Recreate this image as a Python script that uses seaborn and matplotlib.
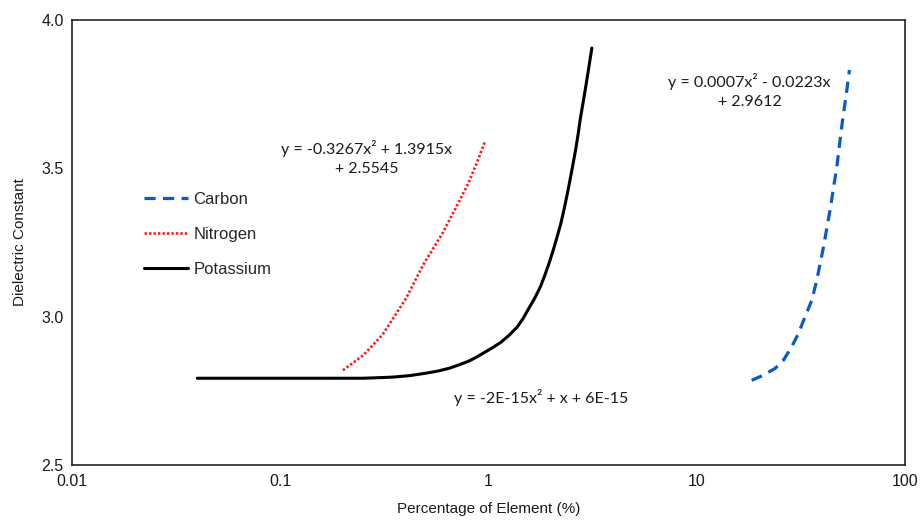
import pandas as pd
import seaborn as sns
import matplotlib.pyplot as plt

# values (x in %, log scale)
carbon_x = [18.3, 20.8, 23.7, 26.0, 28.5, 30.7, 33.0, 35.6, 37.6, 40.5, 43.5, 46.9, 49.5, 52.4, 53.9]
carbon_y = [2.786, 2.803, 2.826, 2.854, 2.899, 2.944, 3.000, 3.056, 3.124, 3.236, 3.359, 3.505,
            3.640, 3.764, 3.831]

nitrogen_x = [0.20, 0.25, 0.31, 0.40, 0.49, 0.60, 0.70, 0.80, 0.88, 0.96]
nitrogen_y = [2.82, 2.87, 2.94, 3.06, 3.18, 3.28, 3.37, 3.45, 3.52, 3.59]

potassium_x = [0.04, 0.1, 0.25, 0.30, 0.35, 0.42, 0.50, 0.57, 0.65, 0.72, 0.80, 0.87, 0.94,
               1.04, 1.15, 1.26, 1.37, 1.46, 1.55, 1.66, 1.77, 1.86, 1.95, 2.04, 2.13, 2.22,
               2.30, 2.38, 2.46, 2.54, 2.62, 2.69, 2.75, 2.85, 2.95, 3.04, 3.13]
potassium_y = [2.793, 2.793, 2.793, 2.795, 2.797, 2.802, 2.810, 2.817, 2.827, 2.838, 2.850,
               2.863, 2.877, 2.895, 2.915, 2.939, 2.965, 2.993, 3.025, 3.061, 3.100, 3.139,
               3.180, 3.223, 3.268, 3.313, 3.360, 3.410, 3.461, 3.513, 3.565, 3.615, 3.663,
               3.727, 3.790, 3.848, 3.905]

eq_carbon = "y = 0.0007x² - 0.0223x\n+ 2.9612"
eq_nitrogen = "y = -0.3267x² + 1.3915x\n+ 2.5545"
eq_potassium = "y = -2E-15x² + x + 6E-15"

x_ticks = [0.01, 0.1, 1, 10, 100]
x_tick_labels = ["0.01", "0.1", "1", "10", "100"]
y_ticks = [2.5, 3.0, 3.5, 4.0]

sns.set_theme(style="white")
plt.rcParams['font.family'] = ['Liberation Sans', 'DejaVu Sans']

fig, ax = plt.subplots(figsize=(9.21, 5.21), dpi=100)
fig.subplots_adjust(left=0.078, right=0.983, top=0.962, bottom=0.107)

sns.lineplot(x=carbon_x, y=carbon_y, ax=ax, color="#0a5bc4", lw=2.3,
             linestyle=(0, (3.5, 2.3)), label="Carbon")
sns.lineplot(x=nitrogen_x, y=nitrogen_y, ax=ax, color="#ff1a1a", lw=1.9,
             linestyle=(0, (0.9, 0.8)), label="Nitrogen")
sns.lineplot(x=potassium_x, y=potassium_y, ax=ax, color="black", lw=2.2,
             label="Potassium")

ax.set_xscale("log")
ax.set_xlim(0.01, 100)
ax.set_ylim(2.5, 4.0)
ax.set_xticks(x_ticks)
ax.set_xticklabels(x_tick_labels)
ax.set_yticks(y_ticks)
ax.set_yticklabels([f"{v:.1f}" for v in y_ticks])
ax.minorticks_off()
ax.tick_params(length=0, labelsize=11.5, colors="#1a1a1a", pad=6)
ax.set_xlabel("Percentage of Element (%)", fontsize=11, color="#1a1a1a", labelpad=10)
ax.set_ylabel("Dielectric Constant", fontsize=11, color="#1a1a1a", labelpad=10)

for s in ax.spines.values():
    s.set_color("#222222")
    s.set_linewidth(1.2)

leg = ax.legend(loc="upper left", bbox_to_anchor=(0.069, 0.648), frameon=False,
                fontsize=12, handlelength=2.6, handletextpad=0.35, labelspacing=1.2)

# trendline equations
eq_font = ['Lato', 'DejaVu Sans']
ax.text(0.354, 0.690, eq_nitrogen, transform=ax.transAxes, ha="center", va="center",
        fontsize=11.5, family=eq_font, color="#1a1a1a", linespacing=1.4)
ax.text(0.563, 0.153, eq_potassium, transform=ax.transAxes, ha="center", va="center",
        fontsize=11.5, family=eq_font, color="#1a1a1a")
ax.text(0.813, 0.840, eq_carbon, transform=ax.transAxes, ha="center", va="center",
        fontsize=11.5, family=eq_font, color="#1a1a1a", linespacing=1.4)

plt.savefig("out.png", dpi=100)
